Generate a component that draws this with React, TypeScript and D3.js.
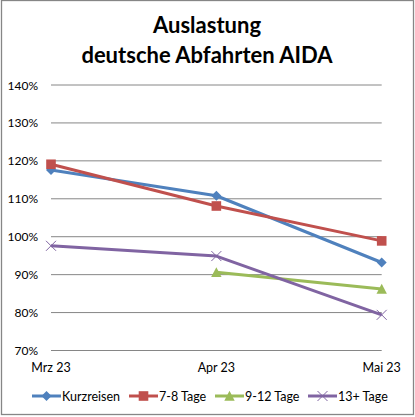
import React from "react";
import * as d3 from "d3";

const categories = ["Mrz 23", "Apr 23", "Mai 23"];
const seriesNames = ["Kurzreisen", "7-8 Tage", "9-12 Tage", "13+ Tage"];
const kurzreisen: (number | null)[] = [117.6, 110.8, 93.2];
const tage78: (number | null)[] = [119.1, 108.1, 98.9];
const tage912: (number | null)[] = [null, 90.6, 86.2];
const tage13: (number | null)[] = [97.6, 94.9, 79.4];
const yTicks = [70, 80, 90, 100, 110, 120, 130, 140];
const colors = ["#4F81BD", "#C0504D", "#9BBB59", "#8064A2"];
const markers = ["diamond", "square", "triangle", "x"];

const W = 415;
const H = 417;
const FONT = "Lato, 'Open Sans', sans-serif";

function Marker({ type, x, y, color }: { type: string; x: number; y: number; color: string }) {
  if (type === "diamond") {
    const s = 5;
    return <path d={`M${x},${y - s}L${x + s},${y}L${x},${y + s}L${x - s},${y}Z`} fill={color} />;
  }
  if (type === "square") {
    const s = 4.8;
    return <rect x={x - s} y={y - s} width={2 * s} height={2 * s} fill={color} />;
  }
  if (type === "triangle") {
    const s = 5.2;
    return <path d={`M${x},${y - s}L${x + s},${y + s * 0.9}L${x - s},${y + s * 0.9}Z`} fill={color} />;
  }
  const s = 5;
  return (
    <path
      d={`M${x - s},${y - s}L${x + s},${y + s}M${x - s},${y + s}L${x + s},${y - s}`}
      stroke={color}
      strokeWidth={1}
      fill="none"
    />
  );
}

export default function App() {
  const series = [kurzreisen, tage78, tage912, tage13];
  const x = d3.scalePoint<string>().domain(categories).range([51, 381.7]);
  const y = d3.scaleLinear().domain([70, 140]).range([350.5, 85]);
  const line = d3
    .line<number | null>()
    .defined((d) => d !== null)
    .x((_, i) => x(categories[i]) as number)
    .y((d) => y(d as number));

  const legendX = [32, 129, 215, 308];

  return (
    <svg width={W} height={H} style={{ position: "absolute", left: 0, top: 0 }}>
      <rect x={0} y={0} width={W} height={H} fill="#fff" />
      <rect x={1.5} y={0.5} width={412} height={414} fill="none" stroke="#868686" strokeWidth={1.3} />
      <text x={207} y={33} textAnchor="middle" fontFamily={FONT} fontWeight="bold" fontSize={22} fill="#000">
        Auslastung
      </text>
      <text x={207} y={62.5} textAnchor="middle" fontFamily={FONT} fontWeight="bold" fontSize={22} fill="#000">
        deutsche Abfahrten AIDA
      </text>
      {yTicks.map((t) => (
        <g key={t}>
          <line x1={51} x2={381.7} y1={y(t)} y2={y(t)} stroke="#868686" strokeWidth={1} />
          <text x={38} y={y(t) + 4.5} textAnchor="end" fontFamily={FONT} fontSize={12} fill="#000">
            {t}%
          </text>
        </g>
      ))}
      {categories.map((c) => (
        <text key={c} x={x(c)} y={372} textAnchor="middle" fontFamily={FONT} fontSize={12.5} fill="#000">
          {c}
        </text>
      ))}
      {series.map((s, si) => (
        <g key={si}>
          <path d={line(s) || ""} fill="none" stroke={colors[si]} strokeWidth={3} strokeLinejoin="round" />
          {s.map((v, i) =>
            v === null ? null : (
              <Marker key={i} type={markers[si]} x={x(categories[i]) as number} y={y(v)} color={colors[si]} />
            )
          )}
        </g>
      ))}
      {seriesNames.map((n, i) => (
        <g key={n}>
          <line x1={legendX[i]} x2={legendX[i] + 29} y1={396} y2={396} stroke={colors[i]} strokeWidth={3} />
          <Marker type={markers[i]} x={legendX[i] + 14.5} y={396} color={colors[i]} />
          <text x={legendX[i] + 30} y={400.5} fontFamily={FONT} fontSize={12.5} fill="#000">
            {n}
          </text>
        </g>
      ))}
    </svg>
  );
}
